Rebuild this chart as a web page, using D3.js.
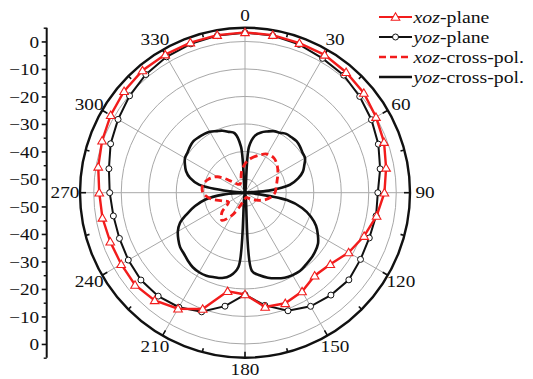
<!DOCTYPE html>
<html>
<head>
<meta charset="utf-8">
<script src="https://cdn.jsdelivr.net/npm/d3@7"></script>
<style>
  html, body { margin: 0; padding: 0; background: #fff; }
  svg { display: block; }
</style>
</head>
<body>
<div id="chart"></div>
<script>
// co-pol cuts, one sample every 10 deg (0..350)
const copolAngles = d3.range(0, 360, 10);
const xozPlane = [3.3, 3.2, 2.9, 2.9, 2.2, 1.4, 0.0, -1.2, -2.9, -4.3,
  -6.4, -8.9, -11.5, -14.5, -15.6, -13.5, -12.2, -12.8, -18.0, -18.6,
  -10.0, -6.3, -3.9, -2.8, -3.0, -2.85, -2.35, -2.0, -0.8, 0.3,
  1.4, 2.4, 3.0, 3.0, 3.1, 3.2];
const yozPlane = [3.2, 3.0, 2.4, 1.4, 0.8, -0.55, -1.9, -3.4, -5.1, -6.7,
  -6.6, -6.9, -6.5, -5.7, -6.4, -7.3, -9.3, -13.4, -17.9, -13.1,
  -8.9, -6.9, -5.9, -5.6, -6.0, -6.4, -6.4, -5.8, -4.75, -3.0,
  -1.7, -0.2, 1.1, 2.05, 2.6, 3.0];

// cross-pol cuts
const xozCrossAngles = d3.range(0, 360, 10);
const xozCross = [-44.5, -42.3, -40.5, -38.8, -38.6, -39.7, -41.2, -42.6, -43.5, -44.1,
  -45.5, -47.4, -49.5, -51.0, -52.1, -52.8, -53.2, -53.2, -52.8, -52.1,
  -49.9, -45.5, -41.9, -44.1, -48.1, -46.3, -42.3, -39.7, -39.4, -40.8,
  -43.4, -48.5, -51.0, -51.4, -50.6, -47.5];
const yozCrossAngles = d3.range(0, 360, 5);
const yozCross = [-55, -38.2, -33.9, -32.3, -31.3, -30.3, -29.8, -28.9, -28.7, -28.5,
  -28.9, -29.5, -29.8, -31.2, -32.6, -35.0, -38.4, -46.3, -55, -52.8,
  -39.5, -33.5, -29.5, -26.5, -24.4, -22.6, -21.7, -21.1, -20.7, -20.2,
  -20.4, -20.9, -21.9, -23.0, -24.5, -26.5, -55, -28.0, -24.4, -22.9,
  -22.3, -21.7, -21.6, -21.9, -22.7, -23.6, -24.2, -25.4, -26.8, -28.9,
  -32.6, -36.2, -40.2, -47.0, -55, -49.5, -38.0, -34.3, -32.2, -30.9,
  -29.8, -29.5, -28.9, -28.5, -28.7, -29.0, -29.4, -30.3, -31.0, -32.1,
  -33.0, -38.2];

const gridLevels = [-50, -40, -30, -20, -10, 0];
const angleLabels = d3.range(0, 360, 30);
const axisLabels = [-50, -40, -30, -20, -10, 0];
const axisMinor = [-45, -35, -25, -15, -5, 5];
const legendNames = [['xoz', '-plane'], ['yoz', '-plane'], ['xoz', '-cross-pol.'], ['yoz', '-cross-pol.']];

const width = 533, height = 379;
const cx = 245, cy = 192.7, R = 165;
const RED = '#f21c1c', BLACK = '#111';
const FONT = '"Liberation Serif", "Times New Roman", serif';
const SX = 1.2; // the reference type is set wide

const svg = d3.select('#chart').append('svg')
  .attr('width', width).attr('height', height)
  .attr('viewBox', `0 0 ${width} ${height}`);
svg.append('rect').attr('width', width).attr('height', height).attr('fill', '#fff');

const r = d3.scaleLinear().domain([-55, 5]).range([0, R]).clamp(true);
const rad = a => a * Math.PI / 180;
const px = (a, v) => cx + r(v) * Math.sin(rad(a));
const py = (a, v) => cy - r(v) * Math.cos(rad(a));

const plot = svg.append('g').attr('transform', `translate(${cx},${cy})`);

// gray grid
plot.append('g').selectAll('circle').data(gridLevels).join('circle')
  .attr('r', d => r(d)).attr('fill', 'none')
  .attr('stroke', '#a8a8a8').attr('stroke-width', 1);
plot.append('g').selectAll('line').data(angleLabels).join('line')
  .attr('x2', d => R * Math.sin(rad(d)))
  .attr('y2', d => -R * Math.cos(rad(d)))
  .attr('stroke', '#a8a8a8').attr('stroke-width', 1);

// outer ring + ticks
plot.append('circle').attr('r', R).attr('fill', 'none')
  .attr('stroke', BLACK).attr('stroke-width', 2.4);
plot.append('g').selectAll('line').data(d3.range(0, 360, 15)).join('line')
  .attr('x1', d => R * Math.sin(rad(d)))
  .attr('y1', d => -R * Math.cos(rad(d)))
  .attr('x2', d => (R - (d % 30 === 0 ? 6 : 4)) * Math.sin(rad(d)))
  .attr('y2', d => -(R - (d % 30 === 0 ? 6 : 4)) * Math.cos(rad(d)))
  .attr('stroke', BLACK).attr('stroke-width', 1.6);

const pairs = (angles, vals) => angles.map((a, i) => ({ a: a, v: vals[i] }));
const smooth = d3.lineRadial()
  .angle(d => rad(d.a)).radius(d => r(d.v))
  .curve(d3.curveCatmullRomClosed.alpha(0.5));
const straight = d3.lineRadial()
  .angle(d => rad(d.a)).radius(d => r(d.v))
  .curve(d3.curveLinearClosed);

// cross-pol
plot.append('path').datum(pairs(yozCrossAngles, yozCross))
  .attr('d', smooth).attr('fill', 'none')
  .attr('stroke', BLACK).attr('stroke-width', 2.6);
plot.append('path').datum(pairs(xozCrossAngles, xozCross))
  .attr('d', smooth).attr('fill', 'none')
  .attr('stroke', RED).attr('stroke-width', 2.8)
  .attr('stroke-dasharray', '7,4');

// co-pol
const yozPts = pairs(copolAngles, yozPlane);
const xozPts = pairs(copolAngles, xozPlane);
plot.append('path').datum(yozPts).attr('d', straight).attr('fill', 'none')
  .attr('stroke', BLACK).attr('stroke-width', 2);
plot.append('g').selectAll('circle').data(yozPts).join('circle')
  .attr('cx', d => px(d.a, d.v) - cx).attr('cy', d => py(d.a, d.v) - cy)
  .attr('r', 3).attr('fill', '#fff').attr('stroke', BLACK).attr('stroke-width', 1);

plot.append('path').datum(xozPts).attr('d', straight).attr('fill', 'none')
  .attr('stroke', RED).attr('stroke-width', 2.4);
const tri = d3.symbol(d3.symbolTriangle, 32);
plot.append('g').selectAll('path').data(xozPts).join('path')
  .attr('d', tri)
  .attr('transform', d => `translate(${px(d.a, d.v) - cx},${py(d.a, d.v) - cy + 0.8})`)
  .attr('fill', '#fff').attr('stroke', RED).attr('stroke-width', 1.1);

// angle labels
svg.append('g').selectAll('text').data(angleLabels).join('text')
  .attr('transform', d => `translate(${cx + 180 * Math.sin(rad(d))},${cy - 177 * Math.cos(rad(d))}) scale(${SX},1)`)
  .attr('text-anchor', 'middle').attr('dy', '0.35em')
  .attr('font-family', FONT).attr('font-size', 16).attr('fill', BLACK)
  .text(d => d);

// left dB axis, mirrored about the centre
const axisX = 46.7;
const yTop = d3.scaleLinear().domain([-55, 5]).range([cy, cy - R]);
const yBot = d3.scaleLinear().domain([-55, 5]).range([cy, cy + R]);
[yTop, yBot].forEach(s => {
  svg.append('g').attr('transform', `translate(${axisX},0)`)
    .call(d3.axisLeft(s).tickValues(axisMinor).tickSize(3).tickFormat(''))
    .call(g => g.select('.domain').remove())
    .call(g => g.selectAll('line').attr('stroke', BLACK).attr('stroke-width', 1.4));
  svg.append('g').attr('transform', `translate(${axisX},0)`)
    .call(d3.axisLeft(s).tickValues(axisLabels).tickSize(5))
    .call(g => g.select('.domain').remove())
    .call(g => g.selectAll('line').attr('stroke', BLACK).attr('stroke-width', 1.6))
    .call(g => g.selectAll('text')
      .attr('x', null).attr('dy', '0.35em')
      .attr('transform', `translate(-7.5,0) scale(${SX},1)`)
      .attr('font-family', FONT).attr('font-size', 16).attr('fill', BLACK));
});
svg.append('line').attr('x1', axisX).attr('x2', axisX)
  .attr('y1', cy - R).attr('y2', cy + R)
  .attr('stroke', BLACK).attr('stroke-width', 2);

// legend
const legY = d3.scaleLinear().domain([0, 1]).range([17, 37]);
const leg = svg.append('g').attr('class', 'legend');
legendNames.forEach((n, i) => {
  const y = legY(i);
  const red = i % 2 === 0;
  leg.append('line').attr('x1', 379).attr('x2', 412).attr('y1', y).attr('y2', y)
    .attr('stroke', red ? RED : BLACK)
    .attr('stroke-width', i < 2 ? 2.2 : 2.6)
    .attr('stroke-dasharray', i === 2 ? '7,4' : null);
  if (i === 0) {
    leg.append('path').attr('d', tri).attr('transform', `translate(395.5,${y + 0.8})`)
      .attr('fill', '#fff').attr('stroke', RED).attr('stroke-width', 1.1);
  } else if (i === 1) {
    leg.append('circle').attr('cx', 395.5).attr('cy', y).attr('r', 3)
      .attr('fill', '#fff').attr('stroke', BLACK).attr('stroke-width', 1);
  }
  const t = leg.append('text')
    .attr('transform', `translate(413.5,${y}) scale(${SX},1)`)
    .attr('dy', '0.35em')
    .attr('font-family', FONT).attr('font-size', 16.5).attr('fill', BLACK);
  t.append('tspan').attr('font-style', 'italic').text(n[0]);
  t.append('tspan').text(n[1]);
});
</script>
</body>
</html>
